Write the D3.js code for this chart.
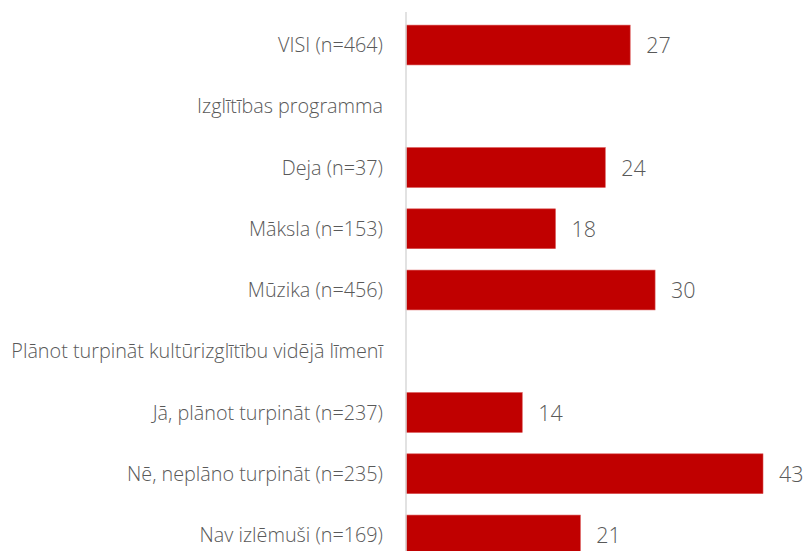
<!DOCTYPE html>
<html>
<head>
<meta charset="utf-8">
<script src="https://cdn.jsdelivr.net/npm/d3@7"></script>
<style>
  body { margin: 0; background: #fff; }
  svg { display: block; font-family: "Open Sans", "Noto Sans", sans-serif; font-weight: 300; }
</style>
</head>
<body>
<div id="chart"></div>
<script>
var categories = [
    'VISI (n=464)',
    'Izglītības programma',
    'Deja (n=37)',
    'Māksla (n=153)',
    'Mūzika (n=456)',
    'Plānot turpināt kultūrizglītību vidējā līmenī',
    'Jā, plānot turpināt (n=237)',
    'Nē, neplāno turpināt (n=235)',
    'Nav izlēmuši (n=169)'
];
// null = group heading row, no bar
var values = [27, null, 24, 18, 30, null, 14, 43, 21];

var width = 806, height = 551;
var axisX = 406;

var svg = d3.select('#chart').append('svg')
    .attr('width', width)
    .attr('height', height);

var x = d3.scaleLinear()
    .domain([0, 43])
    .range([axisX, 763]);

var y = d3.scaleBand()
    .domain(categories)
    .range([14.4, 565.6])
    .paddingInner(0.35)
    .paddingOuter(0.175);

var rows = categories.map(function (c, i) {
    return { label: c, value: values[i] };
});

// bars
svg.append('g').selectAll('rect')
    .data(rows.filter(function (d) { return d.value !== null; }))
    .enter()
    .append('rect')
    .attr('x', x(0))
    .attr('y', function (d) { return y(d.label); })
    .attr('width', function (d) { return x(d.value) - x(0); })
    .attr('height', y.bandwidth())
    .attr('fill', '#c00000')
    .attr('stroke', '#d94f4f')
    .attr('stroke-width', 0.6);

// value labels
svg.append('g').selectAll('text')
    .data(rows.filter(function (d) { return d.value !== null; }))
    .enter()
    .append('text')
    .attr('x', function (d) { return x(d.value) + 16; })
    .attr('y', function (d) { return y(d.label) + y.bandwidth() / 2; })
    .attr('dy', '0.38em')
    .attr('font-size', 21.5)
    .attr('fill', '#595959')
    .text(function (d) { return d.value; });

// category labels
svg.append('g').selectAll('text')
    .data(rows)
    .enter()
    .append('text')
    .attr('x', 383)
    .attr('y', function (d) { return y(d.label) + y.bandwidth() / 2; })
    .attr('dy', '0.36em')
    .attr('text-anchor', 'end')
    .attr('font-size', 19.8)
    .attr('fill', '#595959')
    .text(function (d) { return d.label; });

// vertical axis line
svg.append('line')
    .attr('x1', axisX).attr('x2', axisX)
    .attr('y1', 12).attr('y2', height)
    .attr('stroke', '#d9d9d9')
    .attr('stroke-width', 1.5);
</script>
</body>
</html>
